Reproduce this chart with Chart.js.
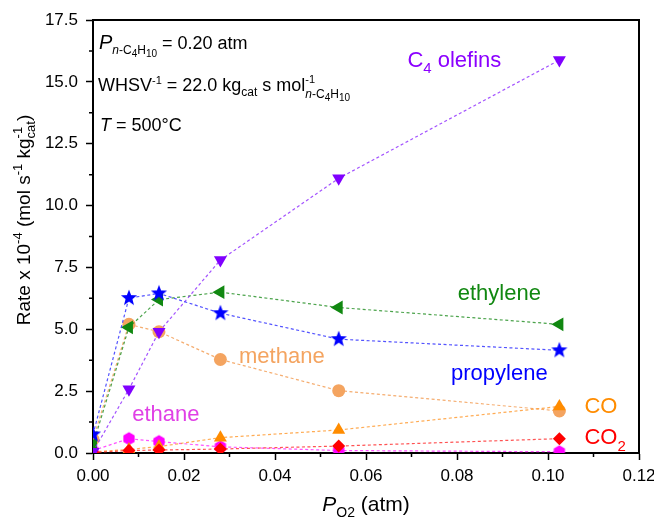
<!DOCTYPE html>
<html>
<head>
<meta charset="utf-8">
<script src="https://cdn.jsdelivr.net/npm/chart.js@4.4.0/dist/chart.umd.min.js"></script>
<style>
  html, body { margin: 0; padding: 0; background: #fff; }
  #wrap { width: 654px; height: 523px; }
</style>
</head>
<body>
<div id="wrap"><canvas id="rateChart" width="654" height="523"></canvas></div>
<script>
// O2 partial pressure (atm)
const pO2 = [0, 0.0079, 0.0145, 0.028, 0.054, 0.1025];

// Rate x 10^-4 (mol s^-1 kgcat^-1)
const c4Olefins = [0.05, 2.58, 4.9, 7.8, 11.1, 15.88];
const ethylene  = [0.35, 5.08, 6.2, 6.5, 5.88, 5.2];
const propylene = [0.75, 6.26, 6.45, 5.65, 4.6, 4.15];
const methane   = [0.55, 5.2, 4.9, 3.78, 2.52, 1.7];
const ethane    = [0.1, 0.58, 0.46, 0.25, 0.1, 0.05];
const coRate    = [0.05, 0.14, 0.26, 0.62, 0.93, 1.88];
const co2Rate   = [0.02, 0.1, 0.12, 0.16, 0.28, 0.58];

const xTickStep = 0.02;
const yTickStep = 2.5;

const FONT = '"Liberation Sans", Arial, sans-serif';

// ---- custom markers ----
function markerCanvas(size, drawFn) {
    const c = document.createElement('canvas');
    c.width = size; c.height = size;
    const g = c.getContext('2d');
    drawFn(g, size / 2);
    return c;
}

const starMarker = markerCanvas(20, function (g, c) {
    g.fillStyle = '#0000ff';
    g.beginPath();
    for (let i = 0; i < 10; i++) {
        const r = i % 2 === 0 ? 8.5 : 3.6;
        const a = -Math.PI / 2 + i * Math.PI / 5;
        g.lineTo(c + r * Math.cos(a), c + r * Math.sin(a));
    }
    g.closePath();
    g.fill();
});

const hexMarker = markerCanvas(16, function (g, c) {
    g.fillStyle = '#ff00ff';
    g.beginPath();
    for (let i = 0; i < 6; i++) {
        const a = Math.PI / 6 + i * Math.PI / 3;
        g.lineTo(c + 6.5 * Math.cos(a), c + 6.5 * Math.sin(a));
    }
    g.closePath();
    g.fill();
});

function series(label, values, color, lineColor, style, extra) {
    return Object.assign({
        label: label,
        data: pO2.map((x, i) => ({ x: x, y: values[i] })),
        showLine: true,
        borderColor: lineColor,
        borderWidth: 1.2,
        borderDash: [3, 2.5],
        backgroundColor: color,
        pointBorderColor: color,
        pointBackgroundColor: color,
        pointStyle: style,
        pointRadius: 6.5,
        pointBorderWidth: 0
    }, extra || {});
}

// ---- rich text helper (sub/superscripts) ----
function drawRich(ctx, segs, x, y, doDraw) {
    let cx = x;
    segs.forEach(s => {
        ctx.font = (s.it ? 'italic ' : '') + s.size + 'px ' + FONT;
        if (doDraw) {
            ctx.fillStyle = s.color || ctx.fillStyle;
            ctx.fillText(s.t, cx, y + (s.dy || 0));
        }
        if (!s.keep) cx += ctx.measureText(s.t).width;
    });
    return cx - x;
}

function sub(t, size, dy, it) { return { t: t, size: size, dy: dy, it: it }; }

const textPlugin = {
    id: 'textPlugin',
    afterDraw(chart) {
        const ctx = chart.ctx;
        const area = chart.chartArea;
        const xs = chart.scales.x, ys = chart.scales.y;
        ctx.save();
        ctx.textBaseline = 'alphabetic';
        ctx.textAlign = 'left';

        // frame top and right
        ctx.strokeStyle = '#000';
        ctx.lineWidth = 2;
        ctx.beginPath();
        ctx.moveTo(area.left, area.top);
        ctx.lineTo(area.right, area.top);
        ctx.lineTo(area.right, area.bottom);
        ctx.stroke();

        // minor ticks
        ctx.lineWidth = 1.5;
        ctx.beginPath();
        for (let v = xTickStep / 2; v < xs.max; v += xTickStep) {
            const px = xs.getPixelForValue(v);
            ctx.moveTo(px, area.bottom);
            ctx.lineTo(px, area.bottom + 4);
        }
        for (let v = yTickStep / 2; v < ys.max; v += yTickStep) {
            const py = ys.getPixelForValue(v);
            ctx.moveTo(area.left, py);
            ctx.lineTo(area.left - 4, py);
        }
        ctx.stroke();

        // condition annotations
        ctx.fillStyle = '#000';
        const lx = area.left + 6;
        drawRich(ctx, [
            sub('P', 20, 0, true), sub('n', 12, 5, true), sub('-C', 12, 5), sub('4', 10, 8),
            sub('H', 12, 5), sub('10', 10, 8), sub(' = 0.20 atm', 18, 0)
        ], lx, area.top + 29, true);
        drawRich(ctx, [
            sub('WHSV', 18, 0), sub('-1', 11, -7), sub(' = 22.0 kg', 18, 0), sub('cat', 12, 5),
            sub(' s mol', 18, 0), { t: '-1', size: 11, dy: -8, keep: true },
            sub('n', 12, 7, true), sub('-C', 12, 7), sub('4', 10, 10), sub('H', 12, 7), sub('10', 10, 10)
        ], lx - 1, area.top + 71, true);
        drawRich(ctx, [sub('T', 18, 0, true), sub(' = 500°C', 18, 0)], lx + 1, area.top + 111, true);

        // series labels, placed in data coordinates
        const put = (segs, x, y, color, align) => {
            segs.forEach(s => s.color = color);
            let px = xs.getPixelForValue(x);
            const py = ys.getPixelForValue(y);
            if (align === 'center') px -= drawRich(ctx, segs, 0, 0, false) / 2;
            drawRich(ctx, segs, px, py, true);
        };
        put([sub('C', 22, 0), sub('4', 15, 6), sub(' olefins', 22, 0)], 0.0691, 15.6, '#8b00ff');
        put([sub('ethylene', 22, 0)], 0.0893, 6.17, '#118811', 'center');
        put([sub('propylene', 22, 0)], 0.0893, 2.94, '#0000ff', 'center');
        put([sub('methane', 22, 0)], 0.0415, 3.63, '#f4a460', 'center');
        put([sub('ethane', 22, 0)], 0.0160, 1.29, '#e040e6', 'center');
        put([sub('CO', 22, 0)], 0.108, 1.6, '#ff8c00');
        put([sub('CO', 22, 0), sub('2', 15, 7)], 0.108, 0.36, '#ff0000');

        // axis titles
        ctx.fillStyle = '#000';
        const xt = [sub('P', 21, 0, true), sub('O2', 14, 6), sub(' (atm)', 21, 0)];
        const xw = drawRich(ctx, xt, 0, 0, false);
        drawRich(ctx, xt, (area.left + area.right) / 2 - xw / 2, 511, true);

        const yt = [
            sub('Rate x 10', 19, 0), sub('-4', 13, -8), sub(' (mol s', 19, 0), sub('-1', 13, -8),
            sub(' kg', 19, 0), { t: '-1', size: 13, dy: -8, keep: true }, sub('cat', 13, 5), sub(')', 19, 0)
        ];
        const yw = drawRich(ctx, yt, 0, 0, false);
        ctx.translate(30, 220);
        ctx.rotate(-Math.PI / 2);
        drawRich(ctx, yt, -yw / 2, 0, true);
        ctx.restore();
    }
};

const ctx = document.getElementById('rateChart').getContext('2d');
const rateChart = new Chart(ctx, {
    type: 'scatter',
    data: {
        datasets: [
            series('propylene', propylene, '#0000ff', 'rgba(40,40,255,0.8)', starMarker),
            series('C4 olefins', c4Olefins, '#8000ff', 'rgba(140,40,255,0.8)', 'triangle', { rotation: 180, pointRadius: 7.5 }),
            series('ethylene', ethylene, '#118811', 'rgba(30,140,30,0.8)', 'triangle', { rotation: 270, pointRadius: 8 }),
            series('CO2', co2Rate, '#ff0000', 'rgba(255,40,40,0.8)', 'rectRot', { pointRadius: 6.5 }),
            series('CO', coRate, '#ff8c00', 'rgba(255,150,40,0.8)', 'triangle', { pointRadius: 7.5 }),
            series('ethane', ethane, '#ff00ff', 'rgba(255,40,255,0.8)', hexMarker),
            series('methane', methane, '#f4a460', 'rgba(244,164,96,0.9)', 'circle', { pointRadius: 6.5 })
        ]
    },
    options: {
        responsive: false,
        animation: false,
        layout: { padding: { top: 20, right: 15, left: 0, bottom: 0 } },
        plugins: {
            legend: { display: false },
            tooltip: { enabled: false }
        },
        scales: {
            x: {
                type: 'linear',
                min: 0,
                max: 0.12,
                ticks: {
                    stepSize: xTickStep,
                    color: '#000',
                    font: { family: FONT, size: 17 },
                    padding: 6,
                    maxRotation: 0,
                    callback: v => v.toFixed(2)
                },
                grid: { drawOnChartArea: false, tickLength: 7, tickColor: '#000', tickWidth: 1.5 },
                border: { color: '#000', width: 2 },
                afterFit: function (scale) {
                    scale.height = 70;
                    scale.paddingLeft = 0;
                    scale.paddingRight = 0;
                }
            },
            y: {
                min: 0,
                max: 17.5,
                ticks: {
                    stepSize: yTickStep,
                    color: '#000',
                    font: { family: FONT, size: 17 },
                    padding: 8,
                    callback: v => v.toFixed(1)
                },
                grid: { drawOnChartArea: false, tickLength: 7, tickColor: '#000', tickWidth: 1.5 },
                border: { color: '#000', width: 2 },
                afterFit: function (scale) {
                    scale.width = 93;
                    scale.paddingTop = 0;
                    scale.paddingBottom = 0;
                }
            }
        }
    },
    plugins: [textPlugin]
});
</script>
</body>
</html>
